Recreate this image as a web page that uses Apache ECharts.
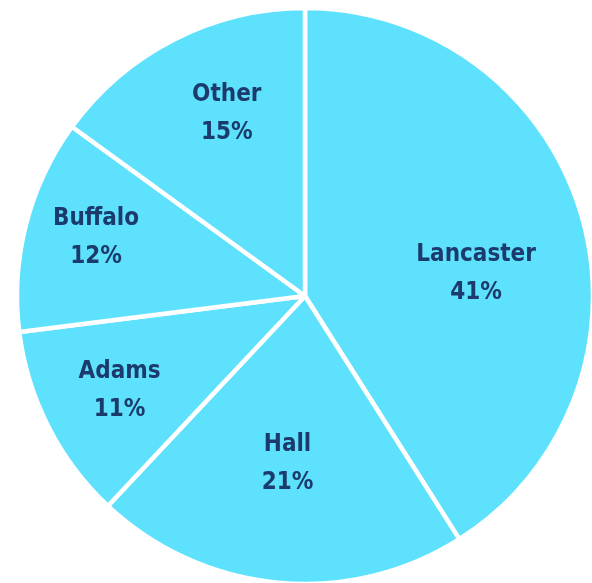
<!DOCTYPE html>
<html><head><meta charset="utf-8">
<script src="https://cdn.jsdelivr.net/npm/echarts@6/dist/echarts.min.js"></script>
<style>html,body{margin:0;padding:0;background:#fff}#c{width:592px;height:583px}</style>
</head><body><div id="c"></div>
<script>
const categories = ['Lancaster', 'Hall', 'Adams', 'Buffalo', 'Other'];
const values = [41, 21, 11, 12, 15];

// label placement style: [angle in degrees, distance as fraction of radius]
const labelPlace = [[8, 0.60], [-96, 0.58], [-153.4, 0.72], [164, 0.755], [113, 0.695]];
const CX = 305, CY = 296, R = 288;

const chart = echarts.init(document.getElementById('c'));
chart.setOption({
  animation: false,
  series: [{
    type: 'pie',
    center: [CX, CY],
    radius: R,
    startAngle: 90,
    clockwise: true,
    silent: true,
    data: categories.map((n, i) => ({ name: n, value: values[i] })),
    itemStyle: { color: '#5ee1fc', borderColor: '#ffffff', borderWidth: 4.5 },
    label: {
      show: true,
      position: 'inside',
      formatter: p => p.name + '\n' + Math.round(p.percent) + '%',
      color: '#1b3b6c',
      fontFamily: '"DejaVu Sans Condensed", sans-serif',
      fontWeight: 'bold',
      fontSize: 24,
      lineHeight: 38,
      align: 'center'
    },
    labelLine: { show: false },
    labelLayout: function (params) {
      const pl = labelPlace[params.dataIndex];
      const a = pl[0] * Math.PI / 180;
      return {
        x: CX + Math.cos(a) * pl[1] * R,
        y: CY - Math.sin(a) * pl[1] * R + 2,
        align: 'center',
        verticalAlign: 'middle'
      };
    }
  }]
});
</script></body></html>
